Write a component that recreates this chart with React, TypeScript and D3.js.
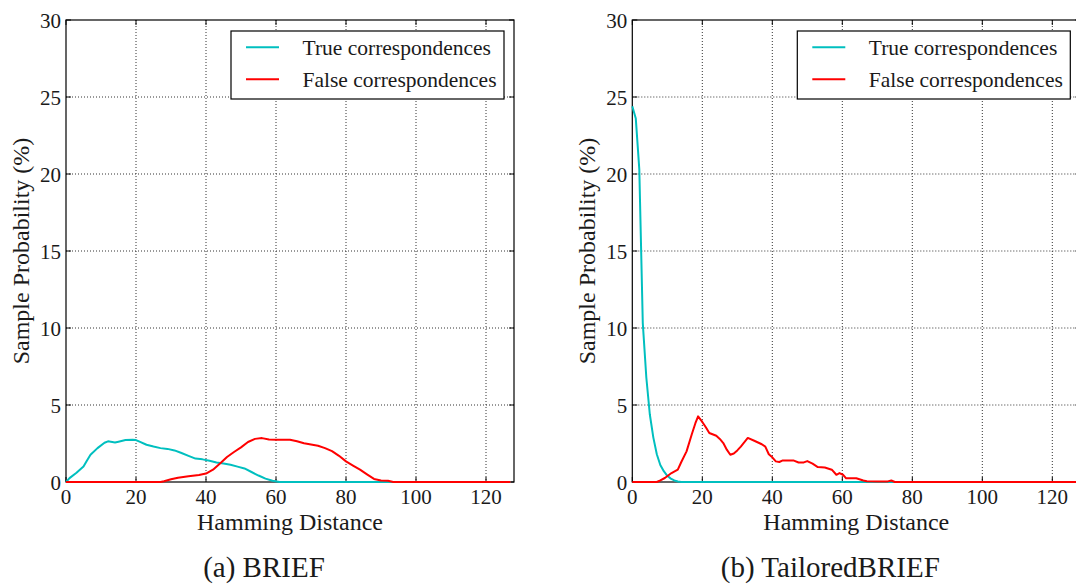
//react
import React from 'react';

// d3
import * as d3 from 'd3';

// axis ticks
const hammingTicks = [0, 20, 40, 60, 80, 100, 120];
const probTicks = [0, 5, 10, 15, 20, 25, 30];

// series names
const seriesNames = ['True correspondences', 'False correspondences'];
const captions = ['(a) BRIEF', '(b) TailoredBRIEF'];

// (a) BRIEF  [hamming distance, probability %]
const briefTrue: [number, number][] = [
  [0, 0], [1, 0.25], [3, 0.6], [5, 1.0], [6, 1.4], [7, 1.77], [9, 2.2], [11, 2.55], [12, 2.64],
  [14, 2.57], [15, 2.62], [17, 2.73], [19, 2.75], [20, 2.72], [21, 2.62], [23, 2.42], [25, 2.3],
  [27, 2.2], [29, 2.15], [31, 2.05], [33, 1.88], [35, 1.7], [37, 1.52], [39, 1.47], [41, 1.38],
  [43, 1.27], [45, 1.2], [47, 1.12], [49, 1.0], [51, 0.88], [53, 0.65], [55, 0.42], [57, 0.22],
  [59, 0.08], [61, 0], [127, 0],
];
const briefFalse: [number, number][] = [
  [0, 0], [27, 0], [28, 0.05], [30, 0.18], [32, 0.28], [35, 0.37], [38, 0.45], [40, 0.55],
  [42, 0.8], [44, 1.2], [46, 1.62], [48, 1.95], [50, 2.25], [52, 2.6], [54, 2.8], [56, 2.85],
  [58, 2.76], [60, 2.75], [64, 2.75], [66, 2.65], [68, 2.52], [70, 2.43], [72, 2.35], [74, 2.2],
  [76, 2.0], [78, 1.7], [80, 1.34], [82, 1.07], [84, 0.8], [86, 0.5], [88, 0.2], [90, 0.1],
  [92, 0.08], [93.5, 0], [127, 0],
];

// (b) TailoredBRIEF
const tailoredTrue: [number, number][] = [
  [0, 24.4], [1, 23.6], [2, 20.3], [3, 10.3], [4, 6.8], [5, 4.4], [6, 2.9], [7, 1.8], [8, 1.1],
  [9, 0.7], [10, 0.4], [11, 0.22], [12, 0.1], [13, 0.03], [14, 0], [127, 0],
];
const tailoredFalse: [number, number][] = [
  [0, 0], [7, 0], [8, 0.1], [9.3, 0.26], [11.2, 0.58], [13, 0.8], [14, 1.3], [15.5, 1.99],
  [17, 3.1], [18, 3.8], [18.8, 4.26], [20, 3.9], [21, 3.55], [22, 3.18], [24, 3.0], [25, 2.8],
  [26, 2.53], [27, 2.1], [28, 1.77], [29, 1.85], [30, 2.05], [31, 2.3], [33, 2.86], [35, 2.66],
  [37, 2.45], [38, 2.3], [39, 1.8], [40, 1.6], [41, 1.34], [42, 1.3], [43, 1.4], [46, 1.4],
  [47.5, 1.27], [49, 1.27], [50, 1.36], [51.5, 1.19], [53, 0.97], [55, 0.94], [57, 0.8],
  [58.3, 0.47], [59.2, 0.58], [60.2, 0.47], [61.1, 0.24], [64, 0.24], [66, 0.1], [67, 0.05],
  [70, 0.04], [73, 0.04], [74, 0.1], [75, 0], [127, 0],
];

const colors = ['#00bfbf', '#ff0000'];
const ink = '#1a1a1a';

// every label goes through this, so the serif face is set on the text itself
const Label = (props: any) => (
  <text fontFamily="Liberation Serif" fill={ink} style={{ fontFamily: 'Liberation Serif' }} {...props} />
);

const Panel = ({ idx, left, data }: { idx: number; left: number; data: [number, number][][] }) => {
  // plot box
  const top = 20, bottom = 482, plotW = 448;
  const x = d3.scaleLinear().domain([0, 128]).range([left, left + plotW]);
  const y = d3.scaleLinear().domain([0, 30]).range([bottom, top]);
  const line = d3.line<[number, number]>().x((d) => x(d[0])).y((d) => y(d[1]));
  const clipId = 'clip' + idx;
  const tl = 5;

  // legend box
  const lx = left + 165, ly = 31, lw = 273, lh = 68;

  return (
    <g>
      <clipPath id={clipId}>
        <rect x={left - 2} y={top - 2} width={plotW + 4} height={bottom - top + 4} />
      </clipPath>

      {/* grid */}
      {hammingTicks.slice(1).map((t) => (
        <line key={'gx' + t} x1={x(t)} x2={x(t)} y1={top} y2={bottom}
          stroke="#333" strokeWidth={1} strokeDasharray="1,2" />
      ))}
      {probTicks.slice(1, -1).map((t) => (
        <line key={'gy' + t} x1={left} x2={left + plotW} y1={y(t)} y2={y(t)}
          stroke="#333" strokeWidth={1} strokeDasharray="1,2" />
      ))}

      {/* frame */}
      <rect x={left} y={top} width={plotW} height={bottom - top} fill="none" stroke="#000" strokeWidth={1.2} />

      {/* inward ticks */}
      {hammingTicks.map((t) => (
        <g key={'tx' + t} stroke="#000">
          <line x1={x(t)} x2={x(t)} y1={bottom} y2={bottom - tl} />
          <line x1={x(t)} x2={x(t)} y1={top} y2={top + tl} />
        </g>
      ))}
      {probTicks.map((t) => (
        <g key={'ty' + t} stroke="#000">
          <line x1={left} x2={left + tl} y1={y(t)} y2={y(t)} />
          <line x1={left + plotW} x2={left + plotW - tl} y1={y(t)} y2={y(t)} />
        </g>
      ))}

      {/* tick labels */}
      {hammingTicks.map((t) => (
        <Label key={'lx' + t} x={x(t)} y={503.5} textAnchor="middle" fontSize={21}>{t}</Label>
      ))}
      {probTicks.map((t) => (
        <Label key={'ly' + t} x={left - 5} y={y(t) + 7.5} textAnchor="end" fontSize={21}>{t}</Label>
      ))}

      {/* axis labels */}
      <Label x={left + plotW / 2} y={530} textAnchor="middle" fontSize={24}>Hamming Distance</Label>
      <Label transform={`translate(${left - 37},${(top + bottom) / 2}) rotate(-90)`} textAnchor="middle" fontSize={24}>
        Sample Probability (%)
      </Label>

      {/* caption */}
      <Label x={left + plotW / 2 - 26} y={577} textAnchor="middle" fontSize={29}>{captions[idx]}</Label>

      {/* curves */}
      {data.map((series, i) => (
        <path key={'s' + i} d={line(series) || ''} clipPath={`url(#${clipId})`}
          fill="none" stroke={colors[i]} strokeWidth={2} strokeLinejoin="round" />
      ))}

      {/* legend */}
      <rect x={lx} y={ly} width={lw} height={lh} fill="#fff" stroke="#000" strokeWidth={1.2} />
      {seriesNames.map((name, i) => {
        const yy = 47.3 + i * 32;
        return (
          <g key={name}>
            <line x1={lx + 15} x2={lx + 48} y1={yy} y2={yy} stroke={colors[i]} strokeWidth={2} />
            <Label x={lx + 71.5} y={yy + 7.5} fontSize={21.5}>{name}</Label>
          </g>
        );
      })}
    </g>
  );
};

const App = () => (
  <svg width={1076} height={584} style={{ position: 'absolute', left: 0, top: 0, display: 'block', background: '#fff' }}>
    <Panel idx={0} left={66} data={[briefTrue, briefFalse]} />
    <Panel idx={1} left={632.3} data={[tailoredTrue, tailoredFalse]} />
  </svg>
);

export default App;
